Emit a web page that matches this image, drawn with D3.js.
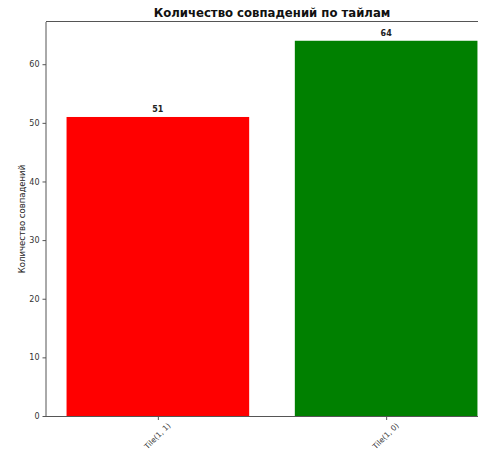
<!DOCTYPE html>
<html>
<head>
<meta charset="utf-8">
<script src="https://cdn.jsdelivr.net/npm/d3@7"></script>
<style>
  html, body { margin: 0; padding: 0; background: #fff; }
  svg { display: block; font-family: "DejaVu Sans", sans-serif; }
</style>
</head>
<body>
<svg id="chart" width="478" height="450"></svg>
<script>
// Match counts per tile
const categories = ["Tile(1, 1)", "Tile(1, 0)"];
const counts = [51, 64];
const barColors = ["#ff0000", "#008000"];
const yTicks = [0, 10, 20, 30, 40, 50, 60];

const svg = d3.select("#chart");
const plotL = 46, plotR = 498, plotT = 22, plotB = 416;

// Index-based positions like matplotlib: bars of width 0.8 with 5% margins
const x = d3.scaleLinear().domain([-0.49, 1.49]).range([plotL, plotR]);
const y = d3.scaleLinear().domain([0, d3.max(counts) * 1.05]).range([plotB, plotT]);
const barW = 0.8;

const g = svg.append("g");

g.selectAll("rect.bar")
  .data(counts)
  .enter().append("rect")
  .attr("class", "bar")
  .attr("x", (d, i) => x(i - barW / 2))
  .attr("width", (d, i) => x(i + barW / 2) - x(i - barW / 2))
  .attr("y", d => y(d))
  .attr("height", d => y(0) - y(d))
  .attr("fill", (d, i) => barColors[i]);

// Value labels above bars
g.selectAll("text.val")
  .data(counts)
  .enter().append("text")
  .attr("class", "val")
  .attr("x", (d, i) => x(i))
  .attr("y", d => y(d) - 5)
  .attr("text-anchor", "middle")
  .attr("font-size", 8)
  .attr("font-weight", "bold")
  .attr("fill", "#222")
  .text(d => d);

// Frame
const spine = "#555";
g.append("line").attr("x1", plotL).attr("x2", plotL).attr("y1", plotT).attr("y2", plotB)
  .attr("stroke", spine).attr("stroke-width", 1);
g.append("line").attr("x1", plotL).attr("x2", plotR).attr("y1", plotB + 0.5).attr("y2", plotB + 0.5)
  .attr("stroke", spine).attr("stroke-width", 1);
g.append("line").attr("x1", plotL).attr("x2", plotR).attr("y1", plotT - 0.5).attr("y2", plotT - 0.5)
  .attr("stroke", spine).attr("stroke-width", 1);

// Y axis
const yAxis = d3.axisLeft(y).tickValues(yTicks).tickSize(3.5).tickPadding(3);
const ya = svg.append("g").attr("transform", `translate(${plotL},0)`).call(yAxis);
ya.select(".domain").remove();
ya.selectAll("line").attr("stroke", spine);
ya.selectAll("text").attr("font-size", 8).attr("fill", "#333")
  .attr("font-family", "DejaVu Sans, sans-serif");

// X axis with category labels rotated 45° and centred under each tick
const xAxis = d3.axisBottom(x).tickValues(categories.map((c, i) => i))
  .tickFormat(i => categories[i]).tickSize(3.5);
const xa = svg.append("g").attr("transform", `translate(0,${plotB + 0.5})`).call(xAxis);
xa.select(".domain").remove();
xa.selectAll("line").attr("stroke", spine);
xa.selectAll("text")
  .attr("font-size", 7.5)
  .attr("fill", "#333")
  .attr("font-family", "DejaVu Sans, sans-serif")
  .attr("text-anchor", "middle")
  .attr("y", 0)
  .attr("dy", "0.35em")
  .attr("transform", "translate(-1,19.5) rotate(-45)");

// Axis title
svg.append("text")
  .attr("transform", `translate(25,${(plotT + plotB) / 2}) rotate(-90)`)
  .attr("text-anchor", "middle")
  .attr("font-size", 8.5)
  .attr("fill", "#222")
  .text("Количество совпадений");

// Chart title
svg.append("text")
  .attr("x", (plotL + plotR) / 2)
  .attr("y", 17)
  .attr("text-anchor", "middle")
  .attr("font-size", 11.7)
  .attr("font-weight", "bold")
  .attr("fill", "#111")
  .text("Количество совпадений по тайлам");
</script>
</body>
</html>
